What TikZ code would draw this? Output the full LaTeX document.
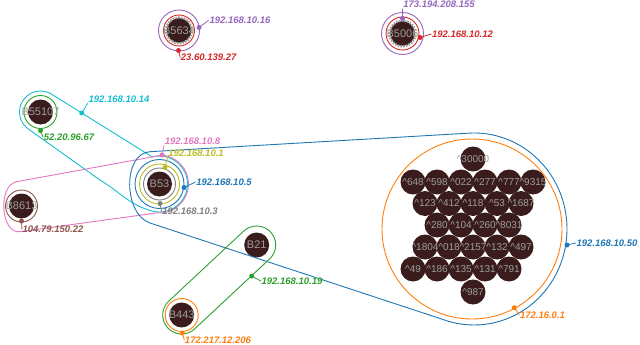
\documentclass[tikz,border=0pt]{standalone}
\usepackage{fontspec}
\setmainfont{Liberation Sans}
\definecolor{tabblue}{HTML}{1F77B4}
\definecolor{taborange}{HTML}{FF7F0E}
\definecolor{tabgreen}{HTML}{2CA02C}
\definecolor{tabred}{HTML}{D62728}
\definecolor{tabpurple}{HTML}{9467BD}
\definecolor{tabbrown}{HTML}{8C564B}
\definecolor{tabpink}{HTML}{E377C2}
\definecolor{tabgray}{HTML}{7F7F7F}
\definecolor{tabolive}{HTML}{BCBD22}
\definecolor{tabcyan}{HTML}{17BECF}
\definecolor{hostbrown}{HTML}{3A1C1C}
\definecolor{namegray}{HTML}{9E9E9E}
\newcommand{\caret}{\textasciicircum}

\begin{document}
\begin{tikzpicture}[x=1pt, y=1pt,
    host/.style={circle, fill=hostbrown, minimum size=25pt, inner sep=0pt},
    hostname/.style={text=namegray, font=\fontsize{11}{11}\selectfont, inner sep=0pt},
    podname/.style={text=namegray, font=\fontsize{10}{10}\selectfont, inner sep=0pt},
    ring/.style={draw=#1, line width=0.9pt},
    gear/.style={draw=namegray, line width=2.4pt, dash pattern=on 1.5pt off 1.3pt},
    hull/.style={draw=#1, line width=0.9pt},
    ipdot/.style={circle, fill=#1, minimum size=5pt, inner sep=0pt},
    iplabel/.style={text=#1, font=\bfseries\itshape\fontsize{9.5}{10}\selectfont, inner sep=0.5pt},
    leader/.style={draw=#1, line width=0.8pt}
]
\useasboundingbox (0,0) rectangle (640,-345);

% Hosts
\node[host] (B5634) at (179,-30.5) {};
\node[host] (B5006) at (402.5,-33.5) {};
\node[host] (B55107) at (40.5,-112) {};
\node[host] (B8613) at (21.5,-206) {};
\node[host] (B53) at (159.5,-184) {};
\node[host] (B21) at (256.7,-245) {};
\node[host] (B443) at (181.7,-315) {};

% Pods of the cluster
\node[host] (p0-1) at (473,-159) {};
\foreach \x [count=\i] in {413,437,461,485,509,533} \node[host] (p1-\i) at (\x,-182) {};
\foreach \x [count=\i] in {425,449,473,497,521} \node[host] (p2-\i) at (\x,-203.5) {};
\foreach \x [count=\i] in {437,461,485,509} \node[host] (p3-\i) at (\x,-225) {};
\foreach \x [count=\i] in {425,449,473,497,521} \node[host] (p4-\i) at (\x,-247) {};
\foreach \x [count=\i] in {413,437,461,485,509} \node[host] (p5-\i) at (\x,-269) {};
\node[host] (p6-1) at (473,-292) {};
\coordinate (hub) at (474,-229);

% Rings
\draw[gear] (B5634) circle[radius=13];
\draw[ring=tabred] (B5634) circle[radius=15.5];
\draw[ring=tabpurple] (B5634) circle[radius=20.5];
\draw[gear] (B5006) circle[radius=13];
\draw[ring=tabred] (B5006) circle[radius=16.5];
\draw[ring=tabpurple] (B5006) circle[radius=21];
\draw[ring=tabgreen] (B55107) circle[radius=16.5];
\draw[ring=tabbrown] (B8613) circle[radius=16];
\draw[ring=tabgray] (B53) circle[radius=16];
\draw[ring=tabolive] (B53) circle[radius=20];
\draw[ring=tabblue] (B53) circle[radius=24.5];
\draw[ring=taborange] (B443) circle[radius=16.5];
\draw[ring=taborange] (472,-229) circle[radius=90];

% Hulls
\draw[hull=tabcyan] ([shift={(59:21)}]B55107.center) -- ([shift={(105:28)}]B53.center)
  arc[start angle=105, end angle=-105, radius=28]
  to[out=165, in=-31] (100,-180) -- ([shift={(238.6:21)}]B55107.center)
  arc[start angle=238.6, end angle=59, radius=21] -- cycle;
\draw[hull=tabpink] (16.7,-181.7) -- ([shift={(85:29)}]B53.center)
  arc[start angle=85, end angle=-95, radius=29]
  -- (20,-231.7) to[out=187.8, in=190.4] (16.7,-181.7);
\draw[hull=tabblue] (150,-151.7) -- ([shift={(94:93 and 96)}]hub)
  arc[start angle=94, end angle=-110, x radius=93, y radius=96]
  -- (150,-223) to[out=161.8, in=183.3] (150,-151.7);
\draw[hull=tabgreen] ([shift={(133:19)}]B443.center) -- ([shift={(133:19)}]B21.center)
  arc[start angle=133, end angle=-47, radius=19]
  -- ([shift={(-47:19)}]B443.center)
  arc[start angle=-47, end angle=-227, radius=19] -- cycle;

% Address dots
\node[ipdot=tabpurple] (d16) at (199,-27.5) {};
\node[ipdot=tabred] (d27) at (178.5,-50.5) {};
\node[ipdot=tabpurple] (d155) at (402.5,-18.5) {};
\node[ipdot=tabred] (d12) at (420,-37.5) {};
\node[ipdot=tabcyan] (d14) at (81.7,-113) {};
\node[ipdot=tabgreen] (d67) at (40.5,-130.5) {};
\node[ipdot=tabpink] (d8) at (162,-155) {};
\node[ipdot=tabolive] (d1) at (165,-167.5) {};
\node[ipdot=tabblue] (d5) at (184,-187.5) {};
\node[ipdot=tabgray] (d3) at (160,-203.5) {};
\node[ipdot=tabbrown] (d22) at (21.5,-221) {};
\node[ipdot=tabgreen] (d19) at (251.7,-276) {};
\node[ipdot=taborange] (d206) at (182.3,-333) {};
\node[ipdot=tabblue] (d50) at (567,-245) {};
\node[ipdot=taborange] (d01) at (514.3,-307.7) {};

% Address labels
\node[iplabel=tabpurple] (l16) at (240,-20) {192.168.10.16};
\node[iplabel=tabred] (l27) at (208.7,-57.5) {23.60.139.27};
\node[iplabel=tabpurple] (l155) at (439,-4.5) {173.194.208.155};
\node[iplabel=tabred] (l12) at (462.5,-34) {192.168.10.12};
\node[iplabel=tabcyan] (l14) at (119,-99) {192.168.10.14};
\node[iplabel=tabgreen] (l67) at (69,-137.5) {52.20.96.67};
\node[iplabel=tabpink] (l8) at (192.5,-141) {192.168.10.8};
\node[iplabel=tabolive] (l1) at (196,-153) {192.168.10.1};
\node[iplabel=tabblue] (l5) at (224,-182) {192.168.10.5};
\node[iplabel=tabgray] (l3) at (190,-211.5) {192.168.10.3};
\node[iplabel=tabbrown] (l22) at (53,-229.5) {104.79.150.22};
\node[iplabel=tabgreen] (l19) at (292,-281) {192.168.10.19};
\node[iplabel=taborange] (l206) at (218,-340) {172.217.12.206};
\node[iplabel=tabblue] (l50) at (607,-243) {192.168.10.50};
\node[iplabel=taborange] (l01) at (542.5,-315) {172.16.0.1};

% Leaders
\draw[leader=tabpurple] (d16.center) -- (l16.west);
\draw[leader=tabred] (d27.center) -- (l27.west);
\draw[leader=tabpurple] (d155.center) -- (l155.south west);
\draw[leader=tabred] (d12.center) -- (l12.west);
\draw[leader=tabcyan] (d14.center) -- (l14.south west);
\draw[leader=tabgreen] (d67.center) -- (l67.west);
\draw[leader=tabpink] (d8.center) -- (l8.south west);
\draw[leader=tabolive] (d1.center) -- (l1.south west);
\draw[leader=tabblue] (d5.center) -- (l5.west);
\draw[leader=tabgray] (d3.center) -- (l3.west);
\draw[leader=tabbrown] (d22.center) -- (l22.west);
\draw[leader=tabgreen] (d19.center) -- (l19.west);
\draw[leader=taborange] (d206.center) -- (l206.west);
\draw[leader=tabblue] (d50.center) -- (l50.west);
\draw[leader=taborange] (d01.center) -- (l01.west);

% Host names
\node[hostname] at (B5634) {B5634};
\node[hostname] at (B5006) {B5006};
\node[hostname] at (B55107) {B55107};
\node[hostname] at (B8613) {B8613};
\node[hostname] at (B53) {B53};
\node[hostname] at (B21) {B21};
\node[hostname] at (B443) {B443};

% Pod names
\node[podname] at (p0-1) {\caret30000};
\foreach \t [count=\i] in {648,598,022,277,777,9315} \node[podname] at (p1-\i) {\caret\t};
\foreach \t [count=\i] in {123,412,118,53,1687} \node[podname] at (p2-\i) {\caret\t};
\foreach \t [count=\i] in {280,104,260,8031} \node[podname] at (p3-\i) {\caret\t};
\foreach \t [count=\i] in {1804,018,2157,132,497} \node[podname] at (p4-\i) {\caret\t};
\foreach \t [count=\i] in {49,186,135,131,791} \node[podname] at (p5-\i) {\caret\t};
\node[podname] at (p6-1) {\caret987};

\end{tikzpicture}
\end{document}
